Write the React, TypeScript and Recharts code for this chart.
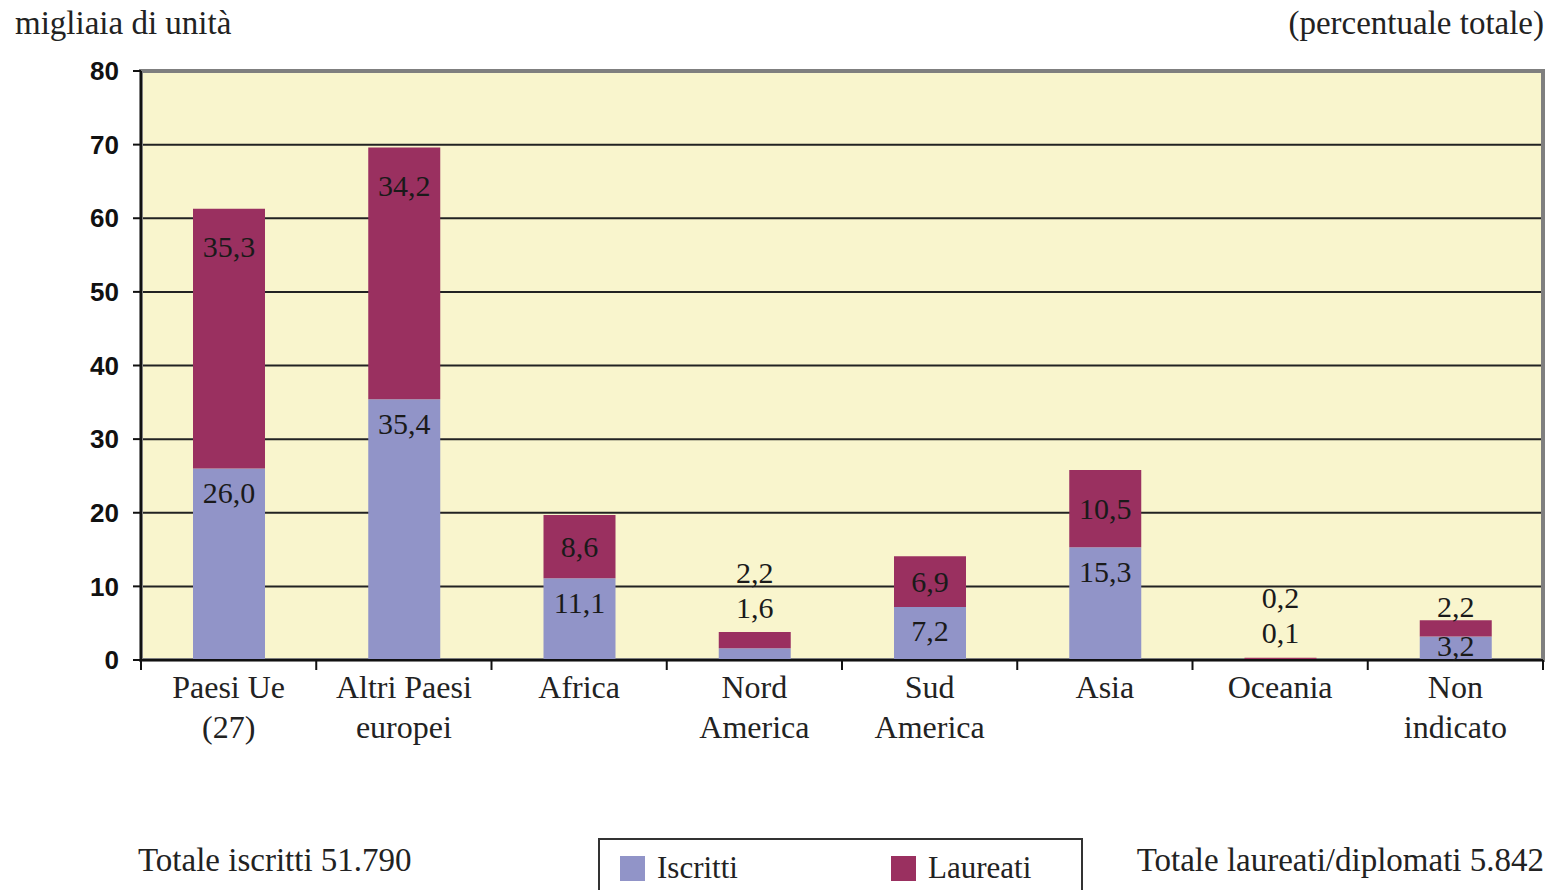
import {
  BarChart,
  Bar,
  XAxis,
  YAxis,
  CartesianGrid,
  LabelList,
  Legend,
  ReferenceArea,
} from "recharts";

const categories = [
  "Paesi Ue\n(27)",
  "Altri Paesi\neuropei",
  "Africa",
  "Nord\nAmerica",
  "Sud\nAmerica",
  "Asia",
  "Oceania",
  "Non\nindicato",
];
const iscritti = [26.0, 35.4, 11.1, 1.6, 7.2, 15.3, 0.1, 3.2];
const laureati = [35.3, 34.2, 8.6, 2.2, 6.9, 10.5, 0.2, 2.2];
const yTicks = [0, 10, 20, 30, 40, 50, 60, 70, 80];

const data = categories.map((name, i) => ({
  name,
  iscritti: iscritti[i],
  laureati: laureati[i],
}));

const SERIF = '"Liberation Serif", "DejaVu Serif", serif';
const SANS = '"Liberation Sans", Arial, sans-serif';
const BLUE = "#9194c8";
const RED = "#9a3060";
const BG = "#f9f5cd";

const W = 1548;
const H = 890;
const LEFT = 141;
const RIGHT = 5;
const BAND = (W - LEFT - RIGHT) / categories.length;

const fmt = (v: number) => v.toFixed(1).replace(".", ",");

function box(props: any) {
  const vb = props.viewBox ?? props;
  return { x: Number(vb.x), y: Number(vb.y), w: Number(vb.width), h: Number(vb.height) };
}

function IscrittiLabel(props: any) {
  const { x, y, w, h } = box(props);
  const v = Number(props.value);
  const i = props.index;
  const k = v > 0 ? h / v : 7.36;
  let ty: number;
  if (h >= 40) ty = y + 24;
  else if (h >= 20) ty = y + h / 2 - 3;
  else ty = y - laureati[i] * k - 25;
  return (
    <text x={x + w / 2} y={ty} textAnchor="middle" dominantBaseline="central"
      fontFamily={SERIF} fontSize={30} fill="#1a1a1a">
      {fmt(v)}
    </text>
  );
}

function LaureatiLabel(props: any) {
  const { x, y, w, h } = box(props);
  const v = Number(props.value);
  const i = props.index;
  const k = v > 0 ? h / v : 7.36;
  let ty: number;
  if (h >= 40) ty = y + Math.min(38, h / 2);
  else if (iscritti[i] * k < 20) ty = y - 60;
  else ty = y - 14;
  return (
    <text x={x + w / 2} y={ty} textAnchor="middle" dominantBaseline="central"
      fontFamily={SERIF} fontSize={30} fill="#1a1a1a">
      {fmt(v)}
    </text>
  );
}

function CategoryTick(props: any) {
  const { x, y, payload, index } = props;
  const lines = String(payload.value).split("\n");
  const axisY = y - 8;
  return (
    <g>
      <line x1={x - BAND / 2} x2={x - BAND / 2} y1={axisY} y2={axisY + 10} stroke="#111" strokeWidth={2} />
      {index === categories.length - 1 && (
        <line x1={x + BAND / 2} x2={x + BAND / 2} y1={axisY} y2={axisY + 10} stroke="#111" strokeWidth={2} />
      )}
      <text x={x} y={axisY + 38} textAnchor="middle" fontFamily={SERIF} fontSize={32} fill="#222">
        {lines.map((l, j) => (
          <tspan key={j} x={x} dy={j === 0 ? 0 : 40}>
            {l}
          </tspan>
        ))}
      </text>
    </g>
  );
}

function LegendBox() {
  const items = [
    { label: "Iscritti", color: BLUE },
    { label: "Laureati", color: RED },
  ];
  return (
    <div style={{ position: "relative", width: 485, height: 60, boxSizing: "border-box",
      border: "2px solid #333", borderBottom: "none", background: "#fff" }}>
      {items.map((it, i) => (
        <div key={it.label} style={{ position: "absolute", left: 20 + i * 271, top: 10,
          display: "flex", alignItems: "center" }}>
          <div style={{ width: 25, height: 25, background: it.color, marginRight: 12 }} />
          <span style={{ fontFamily: SERIF, fontSize: 31, color: "#222" }}>{it.label}</span>
        </div>
      ))}
    </div>
  );
}

export default function App() {
  return (
    <div style={{ position: "absolute", left: 0, top: 0, width: W, height: H, background: "#fff", overflow: "hidden" }}>
      <div style={{ position: "absolute", left: 15, top: 5, fontFamily: SERIF, fontSize: 33, color: "#222" }}>
        migliaia di unità
      </div>
      <div style={{ position: "absolute", right: 4, top: 5, fontFamily: SERIF, fontSize: 33, color: "#222" }}>
        (percentuale totale)
      </div>
      <BarChart width={W} height={H} data={data} barSize={72}
        margin={{ top: 71, right: RIGHT, left: 0, bottom: 140 }}>
        <CartesianGrid vertical={false} fill={BG} stroke="#222" strokeWidth={2} />
        <ReferenceArea y1={0} y2={80} fill="none" stroke="#7f7f7f" strokeWidth={4} ifOverflow="visible" />
        <YAxis domain={[0, 80]} ticks={yTicks} width={LEFT} interval={0}
          axisLine={{ stroke: "#111", strokeWidth: 2 }}
          tickLine={{ stroke: "#111", strokeWidth: 2 }} tickSize={8} tickMargin={14}
          tick={{ fontFamily: SANS, fontSize: 26, fontWeight: 700, fill: "#111" }} />
        <XAxis dataKey="name" height={90} interval={0} tickLine={false}
          axisLine={{ stroke: "#111", strokeWidth: 2 }} tickSize={6} tickMargin={2}
          tick={<CategoryTick />} />
        <Legend layout="vertical" align="center" verticalAlign="middle"
          wrapperStyle={{ left: 598, top: 838, width: 485, height: 60 }}
          content={() => <LegendBox />} />
        <Bar dataKey="iscritti" name="Iscritti" stackId="a" fill={BLUE} isAnimationActive={false}>
          <LabelList dataKey="iscritti" content={<IscrittiLabel />} />
        </Bar>
        <Bar dataKey="laureati" name="Laureati" stackId="a" fill={RED} isAnimationActive={false}>
          <LabelList dataKey="laureati" content={<LaureatiLabel />} />
        </Bar>
      </BarChart>
      <div style={{ position: "absolute", left: 138, top: 842, fontFamily: SERIF, fontSize: 33, color: "#222" }}>
        Totale iscritti 51.790
      </div>
      <div style={{ position: "absolute", right: 4, top: 842, fontFamily: SERIF, fontSize: 33, color: "#222" }}>
        Totale laureati/diplomati 5.842
      </div>
    </div>
  );
}
